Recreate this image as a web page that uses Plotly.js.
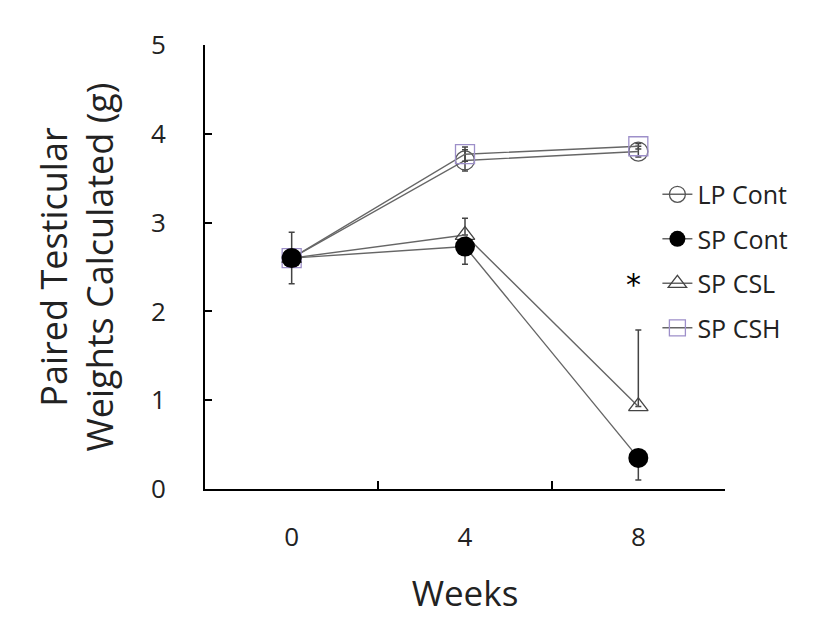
<!DOCTYPE html>
<html><head><meta charset="utf-8">
<script src="https://cdn.plot.ly/plotly-3.0.1.min.js"></script>
<style>body{margin:0;background:#fff}</style>
</head><body>
<div id="chart" style="width:827px;height:627px"></div>
<script>
const weeks = [0, 4, 8];
const lpCont = [2.60, 3.70, 3.80];
const lpContErr = [0.00, 0.12, 0.06];
const spCont = [2.60, 2.73, 0.35];
const spContErrPlus = [0.29, 0.00, 0.00];
const spContErrMinus = [0.29, 0.20, 0.25];
const spCSL = [2.60, 2.86, 0.93];
const spCSLErrPlus = [0.00, 0.19, 0.86];
const spCSLErrMinus = [0.00, 0.00, 0.00];
const spCSH = [2.60, 3.77, 3.86];
const spCSHErr = [0.00, 0.08, 0.03];
const tickLabels = ['0', '4', '8'];
const sigMark = {x: 7.88, y: 2.3, text: '*'};

const FONT = '"Open Sans", Lato, sans-serif';
const lineCol = '#666';
const errStyle = (plus, minus) => ({type: 'data', symmetric: minus === undefined, array: plus, arrayminus: minus, color: '#444', thickness: 1.5, width: 3});

const traces = [
  {x: weeks, y: lpCont, name: 'LP Cont', mode: 'lines+markers', legendrank: 1,
   legendgroup: 'a', line: {color: lineCol, width: 1.4},
   marker: {symbol: 'circle-open', size: 19, color: '#555', line: {width: 1.3}},
   error_y: errStyle(lpContErr)},
  {x: weeks, y: spCSH, name: 'SP CSH', mode: 'lines+markers', legendrank: 4,
   legendgroup: 'd', line: {color: lineCol, width: 1.4},
   marker: {symbol: 'square-open', size: 19, color: '#9d8fc9', line: {width: 1.3}},
   error_y: errStyle(spCSHErr)},
  {x: weeks, y: spCSL, name: 'SP CSL', mode: 'lines+markers', legendrank: 3,
   legendgroup: 'c', line: {color: lineCol, width: 1.4},
   marker: {symbol: 'triangle-up-open', size: 17, color: '#444', line: {width: 1.3}},
   error_y: errStyle(spCSLErrPlus, spCSLErrMinus)},
  {x: weeks, y: spCont, name: 'SP Cont', mode: 'lines+markers', legendrank: 2,
   legendgroup: 'b', line: {color: lineCol, width: 1.4},
   marker: {symbol: 'circle', size: 20, color: '#000', line: {width: 0}},
   error_y: errStyle(spContErrPlus, spContErrMinus)}
];

const layout = {
  width: 827, height: 627,
  margin: {l: 205, r: 102, t: 45, b: 138},
  paper_bgcolor: '#fff', plot_bgcolor: '#fff',
  font: {family: FONT, color: '#222', size: 26},
  showlegend: true,
  legend: {x: 0.87, y: 0.715, xanchor: 'left', yanchor: 'top', bgcolor: 'rgba(0,0,0,0)',
           font: {size: 25, color: '#222', family: FONT}, traceorder: 'grouped', tracegroupgap: 9,
           itemwidth: 30},
  xaxis: {range: [-2, 10], tickvals: weeks, ticktext: tickLabels, ticks: '', showgrid: false,
          zeroline: false, showline: true, linecolor: '#000', linewidth: 2,
          tickfont: {size: 26, color: '#222'}, ticklabelstandoff: 24,
          minor: {tickvals: [2, 6], ticks: 'inside', ticklen: 8, tickwidth: 2, tickcolor: '#000', showgrid: false},
          title: {text: 'Weeks', font: {size: 35, color: '#222'}, standoff: 28}},
  yaxis: {range: [0, 5], tickvals: [0, 1, 2, 3, 4, 5], ticks: 'inside', ticklen: 7, tickwidth: 2,
          tickcolor: '#000', showgrid: false, zeroline: false, showline: true, linecolor: '#000',
          linewidth: 2, tickfont: {size: 26, color: '#222'}, ticklabelstandoff: 32,
          title: {text: 'Paired Testicular<br>Weights Calculated (g)', font: {size: 36, color: '#222'}, standoff: 26}},
  annotations: [{x: sigMark.x, y: sigMark.y, text: sigMark.text, showarrow: false,
                 font: {size: 30, color: '#000', family: 'DejaVu Sans'}}]
};

Plotly.newPlot('chart', traces, layout, {displayModeBar: false, staticPlot: true});
</script>
</body></html>
